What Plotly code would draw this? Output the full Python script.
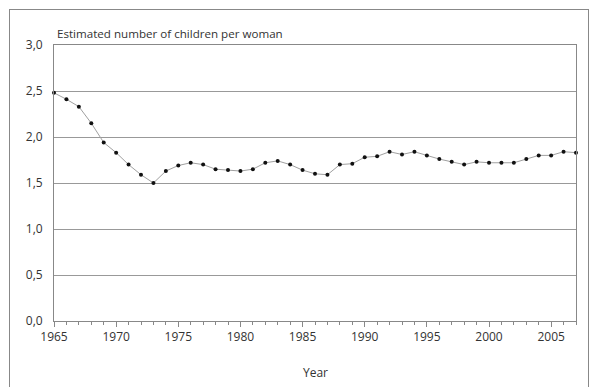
import plotly.graph_objects as go

years = list(range(1965, 2008))
children_per_woman = [2.48, 2.41, 2.33, 2.15, 1.94, 1.83, 1.70, 1.59, 1.50, 1.63,
                      1.69, 1.72, 1.70, 1.65, 1.64, 1.63, 1.65, 1.72, 1.74, 1.70,
                      1.64, 1.60, 1.59, 1.70, 1.71, 1.78, 1.79, 1.84, 1.81, 1.84,
                      1.80, 1.76, 1.73, 1.70, 1.73, 1.72, 1.72, 1.72, 1.76, 1.80,
                      1.80, 1.84, 1.83]
y_ticks = [0.0, 0.5, 1.0, 1.5, 2.0, 2.5, 3.0]
y_tick_labels = ["0,0", "0,5", "1,0", "1,5", "2,0", "2,5", "3,0"]
x_ticks = [1965, 1970, 1975, 1980, 1985, 1990, 1995, 2000, 2005]

FONT = "Open Sans"
W, H = 592, 387
L, R, T, B = 54, 16, 45, 66
pw, ph = W - L - R, H - T - B

def px_x(x):
    return (x - L) / pw

def px_y(y):
    return (H - B - y) / ph

fig = go.Figure()
fig.add_trace(go.Scatter(
    x=years, y=children_per_woman, mode="lines+markers",
    line=dict(color="#a0a0a0", width=1),
    marker=dict(color="#111111", size=4),
    cliponaxis=False, showlegend=False,
))

fig.update_layout(
    width=W, height=H,
    margin=dict(l=L, r=R, t=T, b=B, pad=0),
    paper_bgcolor="white", plot_bgcolor="white",
    font=dict(family=FONT, size=12, color="#333333"),
    xaxis=dict(
        range=[1965, 2007], tickvals=x_ticks, ticktext=[str(v) for v in x_ticks],
        ticks="outside", ticklen=5, tickwidth=1, tickcolor="#888888",
        minor=dict(dtick=1, tick0=1965, ticks="outside", ticklen=3, tickcolor="#888888", showgrid=False),
        showgrid=False, zeroline=False,
        showline=True, linecolor="#888888", linewidth=1, mirror=True,
        tickfont=dict(family=FONT, size=12, color="#333333"),
    ),
    yaxis=dict(
        range=[0, 3], tickvals=y_ticks, ticktext=y_tick_labels,
        ticks="", showgrid=True, gridcolor="#999999", gridwidth=1,
        zeroline=False, showline=True, linecolor="#888888", linewidth=1, mirror=True,
        ticklabelstandoff=8,
        tickfont=dict(family=FONT, size=12, color="#333333"),
    ),
    annotations=[
        dict(text="Estimated number of children per woman", xref="paper", yref="paper",
             x=px_x(55), y=px_y(33), xanchor="left", yanchor="middle", showarrow=False,
             font=dict(family=FONT, size=11.6, color="#333333")),
        dict(text="Year", xref="paper", yref="paper",
             x=px_x(315), y=px_y(372), xanchor="center", yanchor="middle", showarrow=False,
             font=dict(family=FONT, size=12, color="#333333")),
    ],
)

post = (
    "document.body.style.margin='0';document.body.style.padding='0';"
    "var b=document.createElement('div');"
    "b.style.cssText='position:absolute;left:9px;top:9px;width:580px;height:420px;"
    "border:1px solid #888;pointer-events:none;box-sizing:border-box;';"
    "document.body.appendChild(b);"
)
fig.write_html("out.html", config={"displayModeBar": False}, post_script=post)
